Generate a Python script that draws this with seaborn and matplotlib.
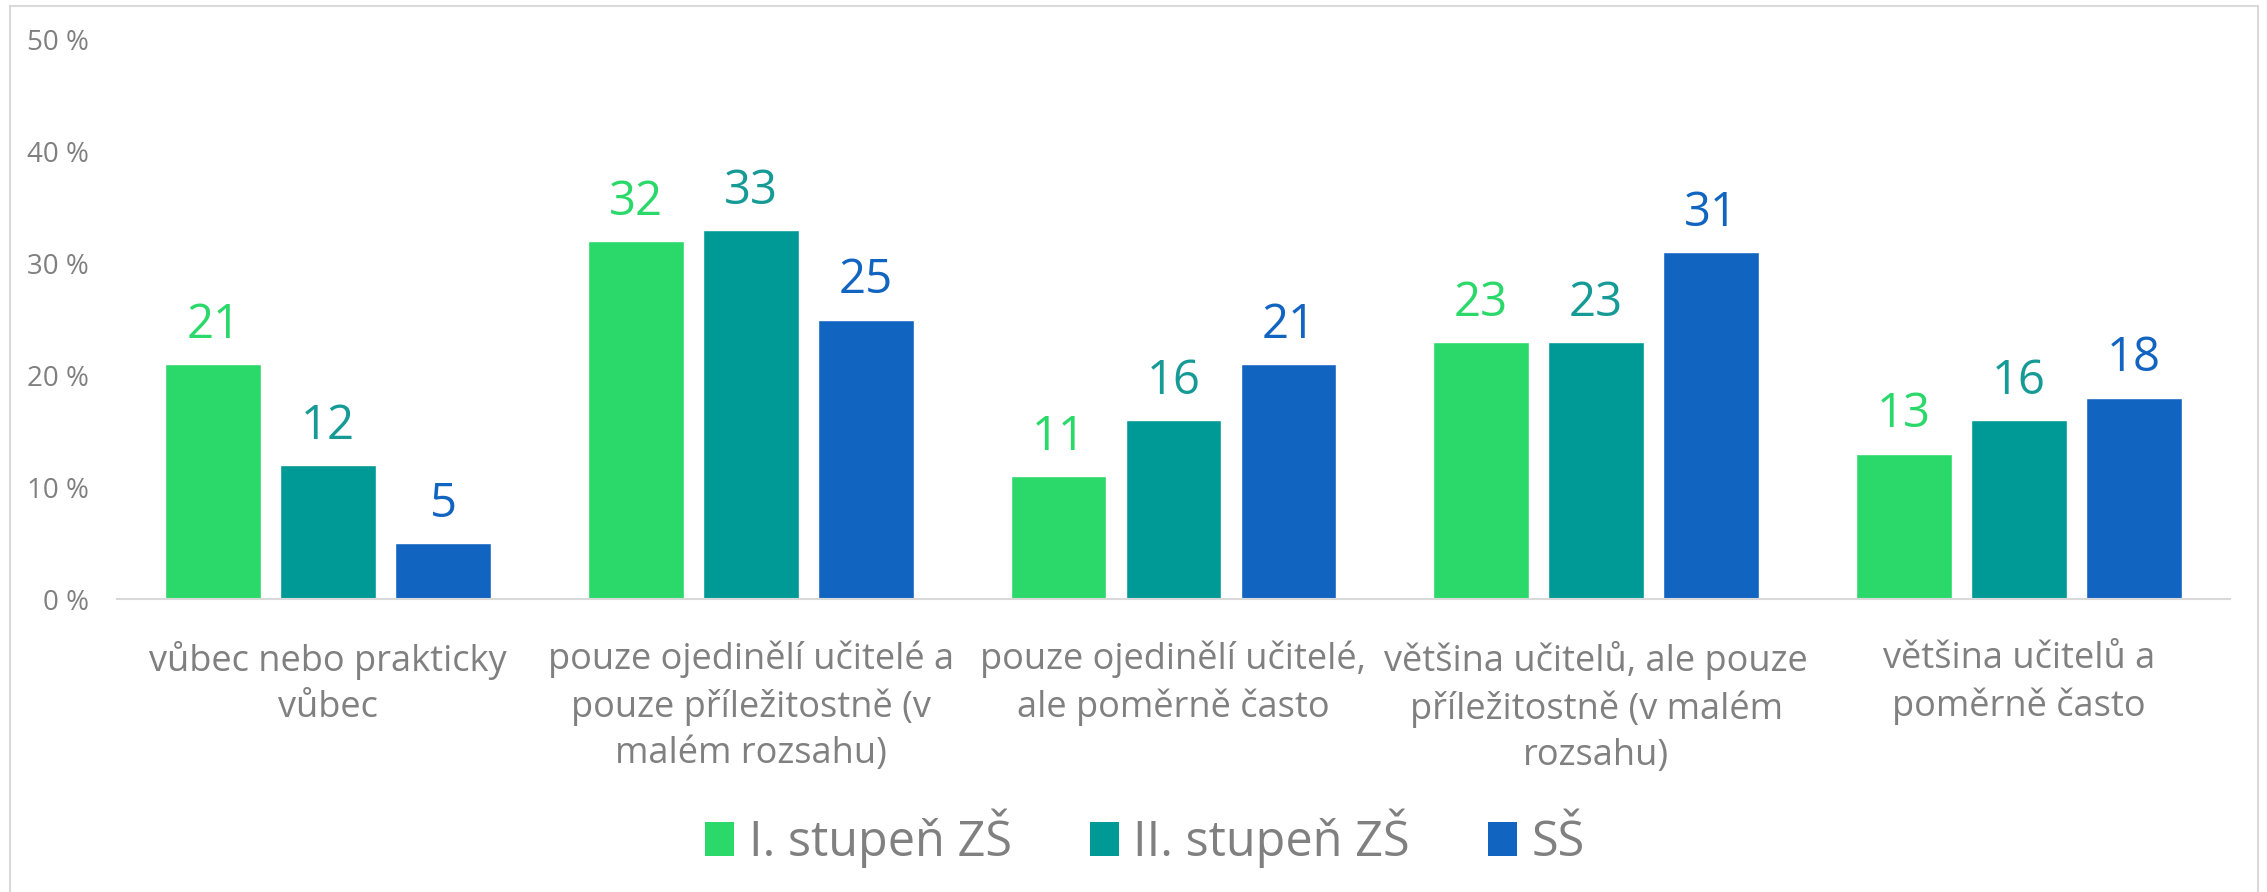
import matplotlib
matplotlib.use("Agg")
import matplotlib.pyplot as plt
from matplotlib.patches import Rectangle, Patch
import seaborn as sns
import pandas as pd

categories = [
    "vůbec nebo prakticky\nvůbec",
    "pouze ojedinělí učitelé a\npouze příležitostně (v\nmalém rozsahu)",
    "pouze ojedinělí učitelé,\nale poměrně často",
    "většina učitelů, ale pouze\npříležitostně (v malém\nrozsahu)",
    "většina učitelů a\npoměrně často",
]
groups = ["I. stupeň ZŠ", "II. stupeň ZŠ", "SŠ"]
vals_1 = [21, 32, 11, 23, 13]
vals_2 = [12, 33, 16, 23, 16]
vals_ss = [5, 25, 21, 31, 18]
yticks = [0, 10, 20, 30, 40, 50]

bar_colors = ["#2bd96b", "#009a96", "#1264c1"]
label_colors = ["#2bd96b", "#159a96", "#1264c1"]
gray = "#808080"

df = pd.DataFrame({
    "kategorie": categories * 3,
    "skupina": [g for g in groups for _ in categories],
    "hodnota": vals_1 + vals_2 + vals_ss,
})

sns.set_style("white")
plt.rcParams["font.family"] = ["Open Sans", "DejaVu Sans"]

W, H = 2267, 892
fig = plt.figure(figsize=(W / 100, H / 100), dpi=100)
ax = fig.add_axes([117 / W, 1 - 599 / H, (2230 - 117) / W, (599 - 40) / H])

sns.barplot(data=df, x="kategorie", y="hodnota", hue="skupina", hue_order=groups,
            palette=bar_colors, width=0.816, gap=0.166, ax=ax, legend=False,
            saturation=1, errorbar=None)

for cont, col in zip(ax.containers, label_colors):
    ax.bar_label(cont, labels=[str(int(v)) for v in cont.datavalues], padding=11,
                 color=col, fontsize=34)

ax.set_ylim(0, 50)
ax.set_xlim(-0.5, 4.5)
ax.set_yticks(yticks)
ax.set_yticklabels([f"{t} %" for t in yticks], color=gray, fontsize=20)
ax.tick_params(axis="y", length=0, pad=20)
ax.tick_params(axis="x", length=0, pad=30)
for lbl in ax.get_xticklabels():
    lbl.set_fontsize(26)
    lbl.set_color(gray)
    lbl.set_linespacing(1.37)
    lbl.set_verticalalignment("top")
ax.set_xlabel("")
ax.set_ylabel("")
for s in ["top", "right", "left"]:
    ax.spines[s].set_visible(False)
ax.spines["bottom"].set_color("#d9d9d9")
ax.spines["bottom"].set_linewidth(1.5)

fig.patches.append(Rectangle((10 / W, -0.1), 2248 / W, 1.1 - 6 / H, transform=fig.transFigure,
                             fill=False, edgecolor="#d9d9d9", linewidth=1.5))

handles = [Patch(facecolor=c, edgecolor="none") for c in bar_colors]
fig.legend(handles, groups, loc="center", bbox_to_anchor=(0.505, 1 - 838 / H), ncol=3,
           frameon=False, fontsize=35, labelcolor=gray, handlelength=0.6, handleheight=0.7,
           handletextpad=0.3, columnspacing=1.6)

fig.savefig("out.png", dpi=100)
